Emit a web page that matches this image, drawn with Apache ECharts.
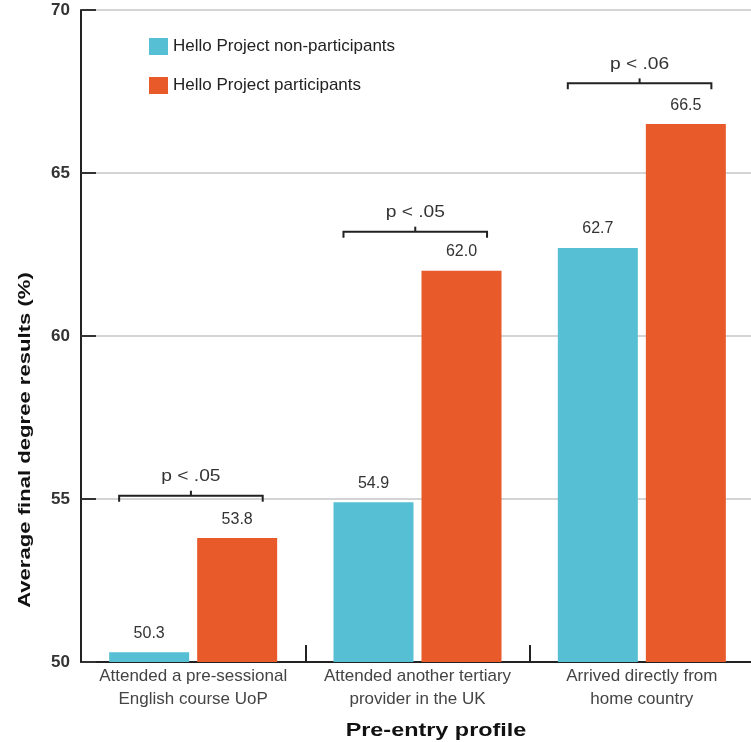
<!DOCTYPE html>
<html><head><meta charset="utf-8">
<script src="https://cdn.jsdelivr.net/npm/echarts@6/dist/echarts.min.js"></script>
<style>html,body{margin:0;padding:0;background:#fff}#c{width:751px;height:742px}</style>
</head><body><div id="c"></div>
<script>
const categories = ['Attended a pre-sessional\nEnglish course UoP', 'Attended another tertiary\nprovider in the UK', 'Arrived directly from\nhome country'];
const nonParticipants = [50.3, 54.9, 62.7];
const participants = [53.8, 62.0, 66.5];
const pLabels = ['p < .05', 'p < .05', 'p < .06'];
const bracketLevels = [55.1, 63.2, 67.75];
const yTicks = [50, 55, 60, 65, 70];

const font = "'Liberation Sans', Arial, sans-serif";
const chart = echarts.init(document.getElementById('c'));
chart.setOption({
  animation: false,
  textStyle: {fontFamily: font},
  grid: {left: 81, top: 10, bottom: 80, width: 673, outerBoundsMode: 'none', containLabel: false},
  legend: {
    orient: 'vertical', left: 144, top: 33, itemWidth: 19, itemHeight: 17, itemGap: 22,
    icon: 'rect',
    textStyle: {fontSize: 17, color: '#222', fontFamily: font},
    data: ['Hello Project non-participants', 'Hello Project participants']
  },
  xAxis: {
    type: 'category', data: categories,
    axisLine: {lineStyle: {color: '#222', width: 2}},
    axisTick: {show: true, inside: true, length: 17, lineStyle: {color: '#222', width: 2}},
    axisLabel: {color: '#444', fontSize: 17, lineHeight: 23, margin: 3, interval: 0}
  },
  yAxis: {
    type: 'value', min: yTicks[0], max: yTicks[yTicks.length - 1], interval: 5,
    axisLine: {show: true, lineStyle: {color: '#222', width: 2}},
    axisTick: {show: true, inside: true, length: 15, lineStyle: {color: '#333', width: 2}},
    axisLabel: {color: '#333', fontSize: 17, fontWeight: 'bold', margin: 11},
    splitLine: {show: true, lineStyle: {color: '#d4d4d4', width: 2}}
  },
  graphic: [
    {type: 'text', x: 25, y: 440, rotation: Math.PI / 2, scaleX: 1.3,
      style: {text: 'Average final degree results (%)', fontSize: 17, fontWeight: 'bold', fill: '#111', fontFamily: font, textAlign: 'center', textVerticalAlign: 'middle'}},
    {type: 'text', x: 436, y: 731, scaleX: 1.3,
      style: {text: 'Pre-entry profile', fontSize: 18, fontWeight: 'bold', fill: '#111', fontFamily: font, textAlign: 'center', textVerticalAlign: 'middle'}}
  ],
  series: [
    {name: 'Hello Project non-participants', type: 'bar', data: nonParticipants, barWidth: 80, barGap: '10%',
      itemStyle: {color: '#56BFD3'},
      label: {show: true, position: 'top', distance: 11, fontSize: 16, color: '#333', formatter: p => p.value.toFixed(1)}},
    {name: 'Hello Project participants', type: 'bar', data: participants, barWidth: 80, barGap: '10%',
      itemStyle: {color: '#E85A2A'},
      label: {show: true, position: 'top', distance: 11, fontSize: 16, color: '#333', formatter: p => p.value.toFixed(1)}},
    {type: 'custom', data: bracketLevels.map((v, i) => [i, v]), z: 10,
      renderItem: function (params, api) {
        const c = api.coord([api.value(0), api.value(1)]);
        const bw = api.size([1, 0])[0];
        const l = c[0] - bw * 0.33, r = c[0] + bw * 0.31, m = (l + r) / 2, y = c[1];
        return {type: 'group', children: [
          {type: 'polyline', shape: {points: [[l, y + 6], [l, y], [r, y], [r, y + 6]]}, style: {stroke: '#222', lineWidth: 2, fill: null}},
          {type: 'line', shape: {x1: m, y1: y, x2: m, y2: y - 5}, style: {stroke: '#222', lineWidth: 2}},
          {type: 'text', x: m, y: y - 19, scaleX: 1.2, style: {text: pLabels[params.dataIndex], fontSize: 16, fill: '#333', fontFamily: font, textAlign: 'center', textVerticalAlign: 'middle'}}
        ]};
      }}
  ]
});
</script></body></html>
